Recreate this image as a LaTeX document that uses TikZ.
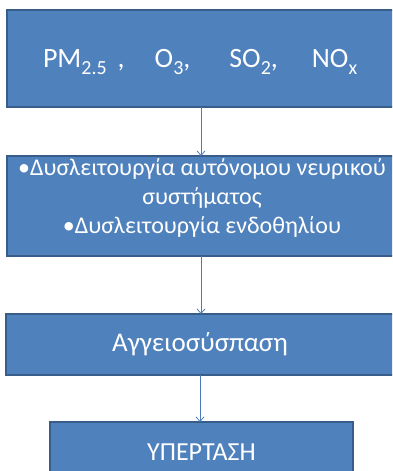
\documentclass[tikz,border=0pt]{standalone}
\usepackage{fontspec}
\setmainfont{Carlito}
\usetikzlibrary{arrows.meta}
\definecolor{boxfill}{HTML}{4F81BD}
\definecolor{boxline}{HTML}{385D8A}
\definecolor{arrowcol}{HTML}{4A7EBB}
\newcommand\lsub[1]{\raisebox{-7pt}{\fontsize{20}{20}\selectfont #1}}
\begin{document}
\begin{tikzpicture}[x=1pt,y=-1pt,
  flowbox/.style={draw=boxline,line width=1.3pt,fill=boxfill,text=white,
    inner sep=0pt,outer sep=0pt,align=center},
  flowtext/.style={text=white,inner sep=0pt,outer sep=0pt},
  flowarrow/.style={draw=arrowcol,line width=0.8pt,-{Straight Barb[length=4.5pt,width=8pt,line width=0.8pt]}}]
\useasboundingbox (0,0) rectangle (392,471);
\clip (0,0) rectangle (392,471);
\node[flowbox,minimum width=390pt,minimum height=97pt] (b1) at (202,58.5) {};
\node[flowtext,font=\fontsize{28}{32}\selectfont,anchor=base west] (b1text) at (43,67)
  {PM\lsub{2.5}\hspace{11pt},\hspace{30pt}O\lsub{3},\hspace{39pt}SO\lsub{2},\hspace{34pt}NO\lsub{x}};
\node[flowbox,minimum width=390pt,minimum height=100pt] (b2) at (202,206) {};
\node[flowtext,font=\fontsize{24}{29}\selectfont,anchor=base] (b2text) at (202,175.5)
  {\begin{tabular}[t]{@{}c@{}}•Δυσλειτουργία αυτόνομου νευρικού\\συστήματος\\•Δυσλειτουργία ενδοθηλίου\end{tabular}};
\node[flowbox,minimum width=388pt,minimum height=61pt,font=\fontsize{27}{32}\selectfont] (b3) at (200,344.5)
  {Αγγειοσύσπαση};
\node[flowbox,minimum width=303pt,minimum height=60pt,font=\fontsize{26}{30}\selectfont] (b4) at (201.5,452)
  {ΥΠΕΡΤΑΣΗ};
\draw[flowarrow] (b1.south -| 201,0) -- (b2.north -| 201,0);
\draw[flowarrow] (b2.south -| 201,0) -- (b3.north -| 201,0);
\draw[flowarrow] (b3.south -| 200,0) -- (b4.north -| 200,0);
\end{tikzpicture}
\end{document}
